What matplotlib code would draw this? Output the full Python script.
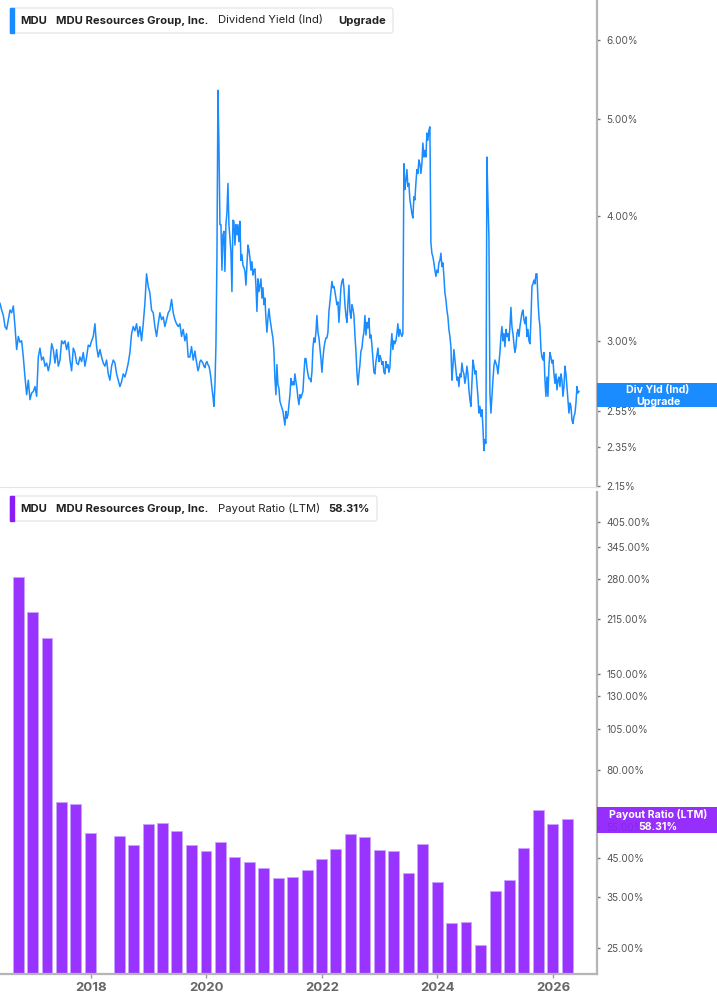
import numpy as np
import pandas as pd
import matplotlib
matplotlib.use("Agg")
import matplotlib.pyplot as plt
import matplotlib.dates as mdates
from matplotlib.patches import FancyBboxPatch, Rectangle
from matplotlib.ticker import FixedLocator, FixedFormatter, NullLocator

plt.rcParams['font.family'] = ['Inter', 'DejaVu Sans']

# ---------------- data ----------------
# Dividend yield (%), three traced stretches, evenly spaced in time
yield_a_span = ('2016-06-07', '2019-10-11')
yield_a = [3.27,3.22,3.18,3.10,3.08,3.15,3.22,3.20,3.25,3.10,
           2.94,3.03,2.99,3.00,2.89,2.76,2.65,2.74,2.62,2.66,
           2.67,2.70,2.64,2.89,2.95,2.87,2.89,2.83,2.85,2.80,
           2.85,2.98,2.94,2.85,2.94,2.83,2.87,3.00,2.98,3.00,
           2.94,2.99,2.87,2.80,2.95,2.92,2.85,2.84,2.89,2.86,
           2.92,2.83,2.89,2.97,2.96,3.00,3.03,3.12,2.96,2.89,
           2.94,2.89,2.85,2.83,2.87,2.78,2.74,2.83,2.87,2.85,
           2.78,2.74,2.70,2.73,2.78,2.76,2.80,2.85,2.92,3.05,
           3.10,3.07,3.12,3.03,3.10,3.00,3.12,3.27,3.50,3.40,
           3.35,3.22,3.20,3.10,3.03,3.12,3.20,3.15,3.17,3.10,
           3.15,3.20,3.22,3.30,3.20,3.15,3.12,3.10,3.12,3.03,
           3.08,3.00,3.05,2.89,2.89,2.96,2.87]

yield_b_span = ('2019-10-22', '2023-03-01')
yield_b = [2.93,2.88,2.84,2.80,2.82,2.86,2.87,2.86,2.85,2.83,
           2.82,2.85,2.86,2.84,2.83,2.80,2.75,2.69,2.64,2.58,
           2.71,2.97,3.63,5.34,4.71,3.92,3.92,3.53,3.83,3.86,
           3.52,3.92,4.03,4.31,3.92,3.80,3.68,3.36,3.96,3.95,
           3.74,3.92,3.83,3.92,3.77,3.95,3.61,3.66,3.57,3.55,
           3.52,3.41,3.57,3.74,3.70,3.63,3.53,3.60,3.49,3.53,
           3.54,3.41,3.21,3.46,3.36,3.41,3.46,3.31,3.39,3.26,
           3.31,3.16,3.06,3.16,3.23,3.16,3.11,3.06,3.02,2.93,
           2.75,2.65,2.84,2.71,2.69,2.61,2.59,2.57,2.55,2.51,
           2.47,2.55,2.51,2.53,2.59,2.65,2.75,2.71,2.73,2.71,
           2.78,2.73,2.69,2.63,2.59,2.65,2.63,2.65,2.67,2.78,
           2.88,2.88,2.82,2.78,2.75,2.75,2.73,2.79,2.95,3.02,
           2.99,3.06,3.18,3.06,3.02,2.95,2.88,2.79,2.88,2.95,
           2.99,3.02,3.02,3.06,3.21,3.28,3.36,3.44,3.39,3.40,
           3.36,3.31,3.26,3.28,3.13,3.26,3.39,3.44,3.46,3.39,
           3.26,3.18,3.13,3.26,3.41,3.21,3.16,3.26,3.23,3.18,
           3.04,2.93,2.79,2.71,2.78,2.84,2.93,2.95,3.02,3.06,
           3.18,3.04,3.13,3.09,3.16,3.02,3.04,2.97,2.88,2.79,
           2.78,2.86,2.90,2.95,2.86,2.90,2.88,2.84,2.86,2.79,
           2.78,2.86,2.82,2.84,2.79]

yield_c_span = ('2023-03-07', '2026-06-14')
yield_c = [2.82,2.96,3.05,2.94,3.00,2.98,3.00,3.05,3.12,3.03,
           3.08,3.05,3.03,3.05,4.51,4.25,4.34,4.45,4.28,4.31,
           4.15,4.09,4.02,3.98,4.18,4.15,4.31,4.45,4.41,4.55,
           4.51,4.41,4.51,4.73,4.58,4.65,4.58,4.84,4.76,4.87,
           4.91,3.76,3.67,3.64,3.59,3.53,3.48,3.53,3.51,3.59,
           3.61,3.67,3.56,3.59,3.48,3.35,3.30,3.22,3.17,3.08,
           3.03,2.96,2.74,2.83,2.94,2.87,2.80,2.74,2.76,2.70,
           2.78,2.76,2.85,2.80,2.78,2.72,2.76,2.83,2.78,2.68,
           2.62,2.58,2.72,2.87,2.83,2.78,2.80,2.72,2.64,2.54,
           2.58,2.52,2.56,2.46,2.33,2.39,2.37,4.58,4.15,3.81,
           2.66,2.54,2.64,2.74,2.83,2.87,2.85,2.83,2.78,2.85,
           2.92,3.03,3.10,3.00,3.05,2.96,3.08,3.03,3.05,3.00,
           3.10,3.24,3.10,3.05,2.98,2.92,2.96,3.05,3.08,3.03,
           3.10,3.15,3.20,3.22,3.15,3.12,3.17,3.03,3.08,3.00,
           2.98,3.15,3.40,3.42,3.45,3.42,3.50,3.50,3.30,3.17,
           3.10,2.94,2.89,2.87,2.92,2.74,2.64,2.76,2.64,2.83,
           2.92,2.89,2.85,2.87,2.78,2.72,2.78,2.68,2.74,2.76,
           2.70,2.78,2.74,2.64,2.70,2.83,2.78,2.70,2.62,2.54,
           2.60,2.58,2.50,2.48,2.52,2.54,2.60,2.70,2.66,2.67]

# Payout ratio (LTM, %) per quarter, Q3 2016 .. Q1 2026 (one quarter missing)
payout_first_quarter = '2016Q3'
payout_values = [282.5, 225.6, 190.3, 64.9, 64.0, 52.9, np.nan, 52.1, 49.1, 56.1,
                 56.7, 53.6, 49.0, 47.2, 50.1, 45.3, 43.8, 42.1, 39.6, 39.9,
                 41.6, 44.8, 47.8, 52.6, 51.6, 47.6, 47.1, 40.8, 49.3, 38.4,
                 29.4, 29.7, 25.5, 36.2, 39.0, 48.0, 61.7, 56.3, 58.31]

yield_ticks = [2.15, 2.35, 2.55, 3.0, 4.0, 5.0, 6.0]
payout_ticks = [25, 35, 45, 55, 80, 105, 130, 150, 215, 280, 345, 405]
year_ticks = [2018, 2020, 2022, 2024, 2026]

# ---------------- build series ----------------
def span_dates(span, n):
    return pd.date_range(span[0], span[1], periods=n)

yd = np.concatenate([span_dates(yield_a_span, len(yield_a)).values,
                     span_dates(yield_b_span, len(yield_b)).values,
                     span_dates(yield_c_span, len(yield_c)).values])
yv = np.array(yield_a + yield_b + yield_c)

pq = pd.period_range(payout_first_quarter, periods=len(payout_values), freq='Q')
pdates = pq.to_timestamp(how='end').normalize()
pvals = np.array(payout_values, dtype=float)

# ---------------- figure ----------------
W, H = 717, 1005
fig = plt.figure(figsize=(W / 100, H / 100), dpi=100)
def fx(x): return x / W
def fy(y): return 1 - y / H

BLUE = '#1a8cff'
PURPLE = '#9933ff'
AXC = '#b5b5b5'
LBL = '#555555'

xmin = pd.Timestamp('2016-06-07')
xmax = pd.Timestamp('2026-10-06')

ax1 = fig.add_axes([0, fy(487), fx(597), 487 / H])
ax2 = fig.add_axes([0, fy(974), fx(597), (974 - 492) / H])

for ax in (ax1, ax2):
    for s in ('left', 'top'):
        ax.spines[s].set_visible(False)
    ax.spines['right'].set_color(AXC)
    ax.spines['right'].set_linewidth(1.6)
    ax.yaxis.tick_right()
    ax.set_yscale('log')
    ax.set_xlim(xmin, xmax)
    ax.tick_params(axis='y', which='major', direction='out', length=2.5, width=1,
                   color='#777777', labelsize=7.2, labelcolor=LBL, pad=4.5)
    ax.yaxis.set_minor_locator(NullLocator())
    ax.yaxis.set_minor_formatter(FixedFormatter([]))

# top: dividend yield
ax1.plot(yd, yv, color=BLUE, lw=1.1, solid_joinstyle='round')
ax1.set_ylim(2.1426, 6.575)
ax1.yaxis.set_major_locator(FixedLocator(yield_ticks))
ax1.yaxis.set_major_formatter(FixedFormatter([f'{t:.2f}%' for t in yield_ticks]))
ax1.spines['bottom'].set_color('#e4e4e4')
ax1.spines['bottom'].set_linewidth(0.8)
ax1.tick_params(axis='x', which='both', bottom=False, labelbottom=False)

# bottom: payout ratio
base = 21.09
ax2.set_ylim(base, 493.7)
ax2.bar(pdates, pvals - base, bottom=base, width=69, color=PURPLE,
        edgecolor='#c9a3ff', linewidth=0.6)
ax2.yaxis.set_major_locator(FixedLocator(payout_ticks))
ax2.yaxis.set_major_formatter(FixedFormatter([f'{t:.2f}%' for t in payout_ticks]))
ax2.spines['bottom'].set_color(AXC)
ax2.spines['bottom'].set_linewidth(1.6)
ax2.xaxis.set_major_locator(FixedLocator([mdates.date2num(pd.Timestamp(f'{y}-01-01')) for y in year_ticks]))
ax2.xaxis.set_major_formatter(FixedFormatter([str(y) for y in year_ticks]))
ax2.xaxis.set_minor_locator(NullLocator())
ax2.tick_params(axis='x', direction='out', length=3, width=1, color='#999999',
                labelsize=9.5, labelcolor='#666666', pad=3)
for lab in ax2.get_xticklabels():
    lab.set_fontweight('bold')

# ---------------- legends ----------------
def legend_box(y0, y1, x1, color, parts):
    fig.patches.append(FancyBboxPatch((fx(10), fy(y1)), fx(x1) - fx(10), (y1 - y0) / H,
                                      boxstyle='round,pad=0,rounding_size=0.003',
                                      transform=fig.transFigure, facecolor='white',
                                      edgecolor='#e2e2e2', linewidth=0.8, zorder=3))
    fig.patches.append(Rectangle((fx(10), fy(y1)), 4 / W, (y1 - y0) / H,
                                 transform=fig.transFigure, color=color, zorder=4))
    yc = (y0 + y1) / 2
    for x, txt, bold in parts:
        fig.text(fx(x), fy(yc), txt, ha='left', va='center', fontsize=8.1,
                 fontweight='bold' if bold else 'normal', color='#222222', zorder=5)

legend_box(8, 33, 393, BLUE, [(20.5, 'MDU', True),
                              (56, 'MDU Resources Group, Inc.', True),
                              (217.5, 'Dividend Yield (Ind)', False),
                              (338, 'Upgrade', True)])
legend_box(496, 521, 377, '#8a1cf5', [(20.5, 'MDU', True),
                                      (56, 'MDU Resources Group, Inc.', True),
                                      (217.5, 'Payout Ratio (LTM)', False),
                                      (328, '58.31%', True)])

# ---------------- value tags ----------------
def tag(y0, y1, color, lines, alpha=1.0):
    fig.patches.append(Rectangle((fx(597), fy(y1)), fx(717) - fx(597), (y1 - y0) / H,
                                 transform=fig.transFigure, facecolor=color,
                                 alpha=alpha, zorder=6))
    n = len(lines)
    for i, t in enumerate(lines):
        yy = y0 + (y1 - y0) * (i + 0.5) / n + 0.5
        fig.text(fx(658), fy(yy), t, ha='center', va='center', fontsize=7.6,
                 fontweight='bold', color='white', zorder=7)

tag(383, 407, BLUE, ['Div Yld (Ind)', 'Upgrade'])
tag(807, 833, '#8f1ffc', ['Payout Ratio (LTM)', '58.31%'], alpha=0.93)

fig.savefig('out.png', dpi=100, facecolor='white')
